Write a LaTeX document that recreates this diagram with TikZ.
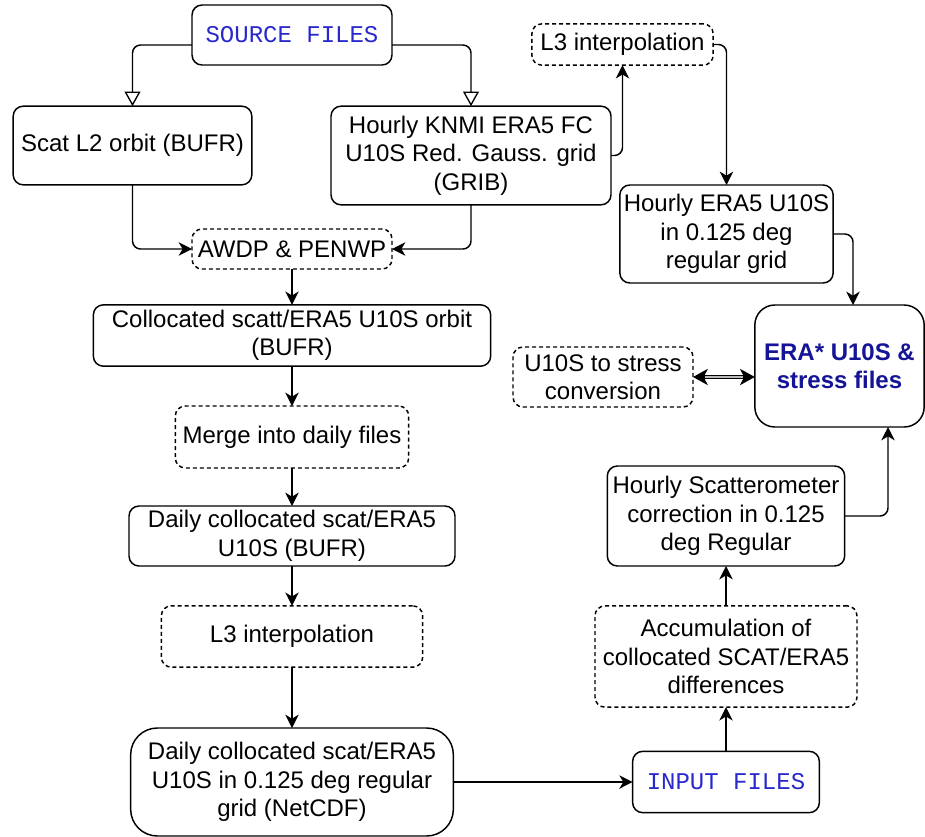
\documentclass[tikz,border=0pt]{standalone}
\usepackage{fontspec}
\setmainfont{Liberation Sans}
\setmonofont{Liberation Mono}
\usetikzlibrary{arrows.meta,calc}
\definecolor{srcblue}{RGB}{40,40,205}
\definecolor{erablue}{RGB}{20,20,150}

\tikzset{
  box/.style={draw, line width=1.1pt, rounded corners=7.5pt, align=center, inner sep=0pt, outer sep=0pt, font=\fontsize{18}{21.4}\selectfont},
  dbox/.style={box, dash pattern={on 3pt off 2.25pt}},
  files/.style={box, text=srcblue, font=\ttfamily\fontsize{18}{21.4}\selectfont},
  flow/.style={line width=1.1pt, rounded corners=6pt, -{Stealth[length=10pt,width=10pt,inset=3pt]}},
  splitarrow/.style={line width=1.1pt, rounded corners=6pt, -{Triangle[open,length=11pt,width=12pt,line width=1pt]}},
  dbl/.style={line width=2.8pt, {Stealth[length=11pt,width=12pt,inset=3pt]}-{Stealth[length=11pt,width=12pt,inset=3pt]},
    postaction={draw=gray!55, line width=1.2pt, shorten <=9pt, shorten >=9pt, -}},
}

\begin{document}
\begin{tikzpicture}[x=0.75pt,y=0.75pt,yscale=-1,xscale=1]
\useasboundingbox (0,0) rectangle (925,836);

%Shape: Rounded Rect [id:src]
\node[files, minimum width=150pt, minimum height=45pt] (src) at (292,35) {SOURCE FILES};
%Shape: Rounded Rect [id:scat]
\node[box, minimum width=179pt, minimum height=59pt] (scat) at (132.5,145.5) {Scat L2 orbit (BUFR)};
%Shape: Rounded Rect [id:knmi]
\node[box, minimum width=210pt, minimum height=74pt] (knmi) at (471,155.5) {Hourly KNMI ERA5 FC\\U10S Red. Gauss. grid\\(GRIB)};
%Shape: Rounded Rect [id:l3a]
\node[dbox, minimum width=136pt, minimum height=31pt] (l3a) at (622.5,44.5) {L3 interpolation};
%Shape: Rounded Rect [id:hera]
\node[box, minimum width=160pt, minimum height=73.5pt] (hera) at (726.5,234) {Hourly ERA5 U10S\\in 0.125 deg\\regular grid};
%Shape: Rounded Rect [id:awdp]
\node[dbox, minimum width=150pt, minimum height=30pt] (awdp) at (292,249) {AWDP \& PENWP};
%Shape: Rounded Rect [id:coll]
\node[box, minimum width=298pt, minimum height=46pt] (coll) at (292,335.5) {Collocated scatt/ERA5 U10S orbit\\(BUFR)};
%Shape: Rounded Rect [id:merge]
\node[dbox, minimum width=175pt, minimum height=46.5pt] (merge) at (292,437) {Merge into daily files};
%Shape: Rounded Rect [id:daily]
\node[box, minimum width=244.5pt, minimum height=45pt] (daily) at (292,536) {Daily collocated scat/ERA5\\U10S (BUFR)};
%Shape: Rounded Rect [id:l3b]
\node[dbox, minimum width=196pt, minimum height=46pt] (l3b) at (292,636.5) {L3 interpolation};
%Shape: Rounded Rect [id:netcdf]
\node[box, rounded corners=20pt, minimum width=242pt, minimum height=81pt] (netcdf) at (292,782) {Daily collocated scat/ERA5\\U10S in 0.125 deg regular\\grid (NetCDF)};
%Shape: Rounded Rect [id:inp]
\node[files, minimum width=140pt, minimum height=46pt] (inp) at (726,782) {INPUT FILES};
%Shape: Rounded Rect [id:accum]
\node[dbox, minimum width=196.5pt, minimum height=76pt] (accum) at (726,656.5) {Accumulation of\\collocated SCAT/ERA5\\differences};
%Shape: Rounded Rect [id:hsc]
\node[box, minimum width=178pt, minimum height=75pt] (hsc) at (726,516) {Hourly Scatterometer\\correction in 0.125\\deg Regular};
%Shape: Rounded Rect [id:era]
\node[box, rounded corners=15pt, minimum width=127pt, minimum height=91.5pt, text=erablue, font=\bfseries\fontsize{18}{21.4}\selectfont] (era) at (839.5,366) {ERA* U10S \&\\stress files};
%Shape: Rounded Rect [id:u10]
\node[dbox, minimum width=135pt, minimum height=45pt] (u10) at (603,377) {U10S to stress\\conversion};

% Connection
\draw[splitarrow] ($(src.west)+(0,10)$) -| (scat.north);
\draw[splitarrow] ($(src.east)+(0,10)$) -| (knmi.north);
% Connection
\draw[flow] (scat.south) |- (awdp.west);
\draw[flow] (knmi.south) |- (awdp.east);
\draw[flow] (knmi.east) -| (l3a.south);
\draw[flow] (l3a.east) -| (hera.north);
\draw[flow] (hera.east) -| ($(era.north)+(13.5,0)$);
% Connection
\draw[flow] (awdp.south) -- (coll.north);
\draw[flow] (coll.south) -- (merge.north);
\draw[flow] (merge.south) -- (daily.north);
\draw[flow] (daily.south) -- (l3b.north);
\draw[flow] (l3b.south) -- (netcdf.north);
% Connection
\draw[flow] (netcdf.east) -- (inp.west);
\draw[flow] (inp.north) -- (accum.south);
\draw[flow] (accum.north) -- (hsc.south);
\draw[flow] (hsc.east) -| ($(era.south)+(48.5,0)$);
\draw[dbl] (u10.east) -- (u10.east -| era.west);

\end{tikzpicture}
\end{document}
